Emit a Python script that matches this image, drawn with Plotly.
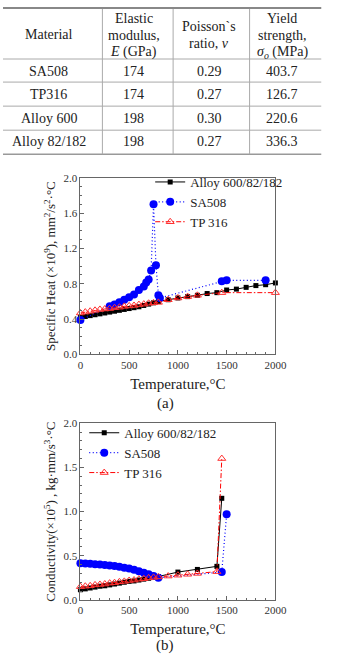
import plotly.graph_objects as go

# ---------------- data ----------------
# Table
header_lines = [["Material"],
                ["Elastic", "modulus,", "<i>E</i> (GPa)"],
                ["Poisson`s", "ratio, <i>ν</i>"],
                ["Yield", "strength,", "<i>σ<sub>o</sub></i> (MPa)"]]
materials = ["SA508", "TP316", "Alloy 600", "Alloy 82/182"]
elastic_modulus = ["174", "174", "198", "198"]
poisson_ratio = ["0.29", "0.27", "0.30", "0.27"]
yield_strength = ["403.7", "126.7", "220.6", "336.3"]

# (a) Specific heat
sh_alloy_T = [0, 50, 100, 150, 200, 250, 300, 350, 400, 450, 500, 550, 600, 650, 700, 750, 800,
              900, 1000, 1100, 1200, 1300, 1400, 1500, 1600, 1700, 1800, 1900, 2000]
sh_alloy = [0.42, 0.43, 0.44, 0.45, 0.46, 0.47, 0.48, 0.49, 0.50, 0.51, 0.52, 0.53, 0.54, 0.555, 0.57, 0.585, 0.60,
            0.62, 0.64, 0.655, 0.67, 0.69, 0.70, 0.73, 0.74, 0.76, 0.78, 0.79, 0.81]
sh_sa508_T = [0, 300, 350, 400, 450, 500, 550, 600, 650, 675, 700, 725, 750, 775,
              800, 815, 1450, 1500, 1900]
sh_sa508 = [0.39, 0.545, 0.567, 0.59, 0.62, 0.648, 0.68, 0.73, 0.77, 0.815, 0.85,
            0.95, 1.70, 1.01, 0.67, 0.64, 0.83, 0.84, 0.84]
sh_tp316_T = [0, 50, 100, 150, 200, 250, 300, 350, 400, 450, 500, 550, 600, 650, 700, 750, 800,
              900, 1000, 1100, 1200, 1450, 2000]
sh_tp316 = [0.47, 0.48, 0.49, 0.50, 0.51, 0.515, 0.52, 0.53, 0.535, 0.545, 0.55, 0.555, 0.565, 0.57, 0.58, 0.585,
            0.59, 0.62, 0.64, 0.655, 0.67, 0.70, 0.70]

# (b) Conductivity
k_alloy_T = [0, 50, 100, 150, 200, 250, 300, 350, 400, 450, 500, 550, 600, 650, 700, 750, 800,
             1000, 1200, 1400, 1450]
k_alloy = [0.115, 0.125, 0.135, 0.145, 0.155, 0.16, 0.17, 0.18, 0.19, 0.20, 0.21, 0.215, 0.225, 0.235, 0.245,
           0.255, 0.265, 0.315, 0.345, 0.38, 1.15]
k_sa508_T = [0, 50, 100, 150, 200, 250, 300, 350, 400, 450, 500, 550, 600, 650, 700, 750, 800, 1450, 1500]
k_sa508 = [0.415, 0.413, 0.41, 0.405, 0.40, 0.395, 0.39, 0.383, 0.375, 0.365, 0.355, 0.34, 0.325, 0.308, 0.29,
           0.27, 0.25, 0.315, 0.97]
k_tp316_T = [0, 50, 100, 150, 200, 250, 300, 350, 400, 450, 500, 550, 600, 650, 700, 750, 800,
             900, 1000, 1100, 1200, 1400, 1450]
k_tp316 = [0.15, 0.155, 0.16, 0.17, 0.175, 0.18, 0.19, 0.195, 0.205, 0.21, 0.22, 0.225, 0.235, 0.24, 0.25, 0.255,
           0.26, 0.27, 0.28, 0.29, 0.30, 0.32, 1.60]

# ---------------- layout helpers ----------------
W, H = 339, 655
SERIF = "Liberation Serif, Times New Roman, serif"


def px(x):
    return x / W


def py(y):
    return 1 - y / H


fig = go.Figure()

alloy_style = dict(mode="lines+markers", line=dict(color="black", width=1),
                   marker=dict(symbol="square", size=5, color="black"), cliponaxis=False)
sa_style = dict(mode="lines+markers", line=dict(color="#0000ff", width=1.2, dash="1px,2.5px"),
                marker=dict(symbol="circle", size=8, color="#0000ff"), cliponaxis=False)
tp_style = dict(mode="lines+markers", line=dict(color="#ff0000", width=1, dash="5px,2px,1.5px,2px"),
                marker=dict(symbol="triangle-up-open", size=7, color="#ff3030", line=dict(width=1)),
                cliponaxis=False)

fig.add_trace(go.Scatter(x=sh_alloy_T, y=sh_alloy, name="Alloy 600/82/182", xaxis="x", yaxis="y",
                         legend="legend", **alloy_style))
fig.add_trace(go.Scatter(x=sh_sa508_T, y=sh_sa508, name="SA508", xaxis="x", yaxis="y",
                         legend="legend", **sa_style))
fig.add_trace(go.Scatter(x=sh_tp316_T, y=sh_tp316, name="TP 316", xaxis="x", yaxis="y",
                         legend="legend", **tp_style))

fig.add_trace(go.Scatter(x=k_alloy_T, y=k_alloy, name="Alloy 600/82/182", xaxis="x2", yaxis="y2",
                         legend="legend2", **alloy_style))
fig.add_trace(go.Scatter(x=k_sa508_T, y=k_sa508, name="SA508", xaxis="x2", yaxis="y2",
                         legend="legend2", **sa_style))
fig.add_trace(go.Scatter(x=k_tp316_T, y=k_tp316, name="TP 316", xaxis="x2", yaxis="y2",
                         legend="legend2", **tp_style))

axis_common = dict(showgrid=False, zeroline=False, showline=True, mirror=True, linecolor="#666",
                   linewidth=1, ticks="inside", ticklen=4, tickcolor="#666",
                   tickfont=dict(family=SERIF, size=11, color="#333"))
xdom = [px(81), px(285)]
fig.update_layout(
    width=W, height=H, margin=dict(l=0, r=0, t=0, b=0),
    paper_bgcolor="white", plot_bgcolor="white",
    font=dict(family=SERIF, color="#222"),
    xaxis=dict(domain=xdom, anchor="y", range=[0, 2000], dtick=500,
               minor=dict(dtick=100, ticks="inside", ticklen=2, tickcolor="#666"),
               title=dict(text="Temperature,°C", font=dict(family=SERIF, size=15, color="#222"), standoff=8),
               **axis_common),
    yaxis=dict(domain=[py(355), py(175)], anchor="x", range=[0, 2], dtick=0.4, tickformat=".1f",
               minor=dict(dtick=0.1, ticks="inside", ticklen=2, tickcolor="#666"),
               title=dict(text="Specific Heat (×10<sup>9</sup>), mm<sup>2</sup>/s<sup>2</sup>·°C",
                          font=dict(family=SERIF, size=13, color="#222"), standoff=4),
               **axis_common),
    xaxis2=dict(domain=xdom, anchor="y2", range=[0, 2000], dtick=500,
                minor=dict(dtick=100, ticks="inside", ticklen=2, tickcolor="#666"),
                title=dict(text="Temperature,°C", font=dict(family=SERIF, size=15, color="#222"), standoff=8),
                **axis_common),
    yaxis2=dict(domain=[py(605), py(425)], anchor="x2", range=[0, 2], dtick=0.5, tickformat=".1f",
                minor=dict(dtick=0.1, ticks="inside", ticklen=2, tickcolor="#666"),
                title=dict(text="Conductivity(×10<sup>5</sup>) , kg·mm/s<sup>3</sup>·°C",
                           font=dict(family=SERIF, size=13, color="#222"), standoff=4),
                **axis_common),
    legend=dict(x=px(154), y=py(164), xanchor="left", yanchor="top", bgcolor="rgba(0,0,0,0)",
                font=dict(family=SERIF, size=13, color="#222"), tracegroupgap=0, itemwidth=30),
    legend2=dict(x=px(85), y=py(419.5), xanchor="left", yanchor="top", bgcolor="rgba(0,0,0,0)",
                 font=dict(family=SERIF, size=13, color="#222"), tracegroupgap=0, itemwidth=30),
    showlegend=True,
)

# ---------------- table (shapes + annotations) ----------------
shapes = []
line_col = "#aaaaaa"
tbl_left, tbl_right = 0, 333
shapes.append(dict(type="line", xref="paper", yref="paper", x0=px(tbl_left), x1=px(tbl_right),
                   y0=py(2), y1=py(2), line=dict(color="#888", width=2)))
for yy in [54, 77.5, 102, 126.5]:
    shapes.append(dict(type="line", xref="paper", yref="paper", x0=px(tbl_left), x1=px(tbl_right),
                       y0=py(yy), y1=py(yy), line=dict(color=line_col, width=1)))
shapes.append(dict(type="line", xref="paper", yref="paper", x0=px(tbl_left), x1=px(tbl_right),
                   y0=py(151), y1=py(151), line=dict(color="#999", width=1.5)))
for xx in [104, 178, 258]:
    shapes.append(dict(type="line", xref="paper", yref="paper", x0=px(xx), x1=px(xx),
                       y0=py(3), y1=py(151), line=dict(color=line_col, width=1)))

annotations = []
col_centers = [48, 137, 216, 292]
header_y = {1: [29], 2: [21, 38], 3: [13, 30, 47]}
for cx, lines in zip(col_centers, header_lines):
    for yy, txt in zip(header_y[len(lines)], lines):
        annotations.append(dict(xref="paper", yref="paper", x=px(cx), y=py(yy), text=txt, showarrow=False,
                                xanchor="center", yanchor="middle",
                                font=dict(family=SERIF, size=14, color="#222")))
row_y = [66.5, 90.5, 114.5, 138.5]
columns = [materials, elastic_modulus, poisson_ratio, yield_strength]
for cx, col in zip(col_centers, columns):
    for yy, txt in zip(row_y, col):
        annotations.append(dict(xref="paper", yref="paper", x=px(cx), y=py(yy), text=txt, showarrow=False,
                                xanchor="center", yanchor="middle",
                                font=dict(family=SERIF, size=14, color="#222")))

# captions
for cap, yy in [("(a)", 405), ("(b)", 651)]:
    annotations.append(dict(xref="paper", yref="paper", x=px(170), y=py(yy), text=cap, showarrow=False,
                            xanchor="center", yanchor="middle", font=dict(family=SERIF, size=15, color="#222")))

fig.update_layout(shapes=shapes, annotations=annotations)
fig.write_html("out.html")
